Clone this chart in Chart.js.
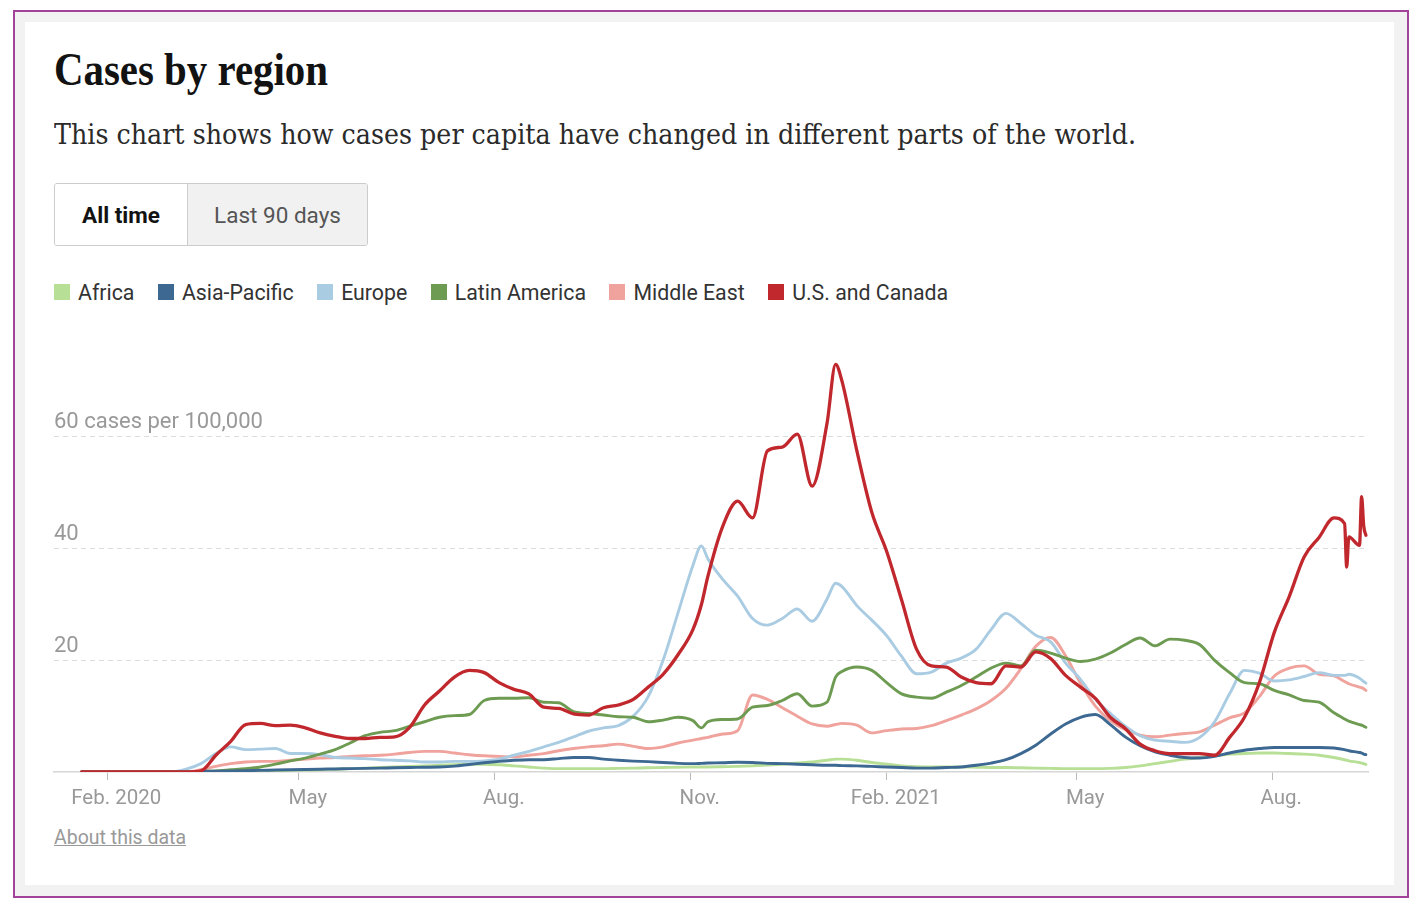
<!DOCTYPE html>
<html>
<head>
<meta charset="utf-8">
<title>Cases by region</title>
<script src="https://cdn.jsdelivr.net/npm/chart.js@4.4.0/dist/chart.umd.min.js"></script>
<style>
  html, body { margin: 0; padding: 0; background: #fff; }
  body { width: 1419px; height: 908px; position: relative; overflow: hidden; font-family: Roboto, "Liberation Sans", sans-serif; }
  #frame { position: absolute; left: 13px; top: 10px; width: 1396px; height: 888px; box-sizing: border-box; border: 2px solid #a1439b; background: #f2f2f2; }
  #card { position: absolute; left: 25px; top: 22px; width: 1369px; height: 863px; background: #fff; }
  .abs { position: absolute; white-space: nowrap; }
  #title { left: 54px; top: 47px; font: bold 46px/1 "Liberation Serif", serif; color: #121212; transform-origin: 0 0; }
  #subtitle { left: 54px; top: 119px; font: 27px/1.2 "DejaVu Serif", serif; color: #2a2a2a; transform-origin: 0 0; }
  #toggle { left: 54px; top: 183px; width: 314px; height: 63px; box-sizing: border-box; border: 1px solid #ccc; border-radius: 3px; display: flex; overflow: hidden; }
  #toggle div { display: flex; align-items: center; justify-content: center; font-size: 22.5px; }
  #allTime { width: 132px; background: #fff; color: #121212; font-weight: bold; border-right: 1px solid #ccc; }
  #last90 { flex: 1; background: #f1f1f1; color: #555; }
  #legend { left: 54px; top: 280px; height: 24px; display: flex; align-items: center; }
  .item { display: flex; align-items: center; margin-right: 23.5px; font-size: 21.3px; color: #333; }
  .swatch { width: 16px; height: 16px; margin-right: 8px; }
  #chartBox { position: absolute; left: 40px; top: 340px; width: 1350px; height: 480px; }
  #about { left: 54px; top: 826px; font-size: 19.5px; color: #999; text-decoration: underline; }
</style>
</head>
<body>
<div id="frame"></div>
<div id="card"></div>
<div id="title" class="abs">Cases by region</div>
<div id="subtitle" class="abs">This chart shows how cases per capita have changed in different parts of the world.</div>
<div id="toggle" class="abs"><div id="allTime">All time</div><div id="last90">Last 90 days</div></div>
<div id="legend" class="abs"></div>
<div id="chartBox"><canvas id="chart" width="1350" height="480"></canvas></div>
<div id="about" class="abs">About this data</div>

<script>
// days counted from Feb. 1, 2020
var days = [
  -12, -5, 2, 9, 16, 23, 30, 37, 44, 51,
  58, 65, 72, 79, 86, 93, 100, 107, 114, 121,
  128, 135, 142, 149, 156, 163, 170, 177, 184, 191,
  198, 205, 212, 219, 226, 233, 240, 247, 254, 261,
  268, 275, 279, 282, 289, 296, 303, 310, 317, 324,
  331, 338, 342, 345, 352, 359, 366, 373, 380, 387,
  394, 401, 408, 415, 422, 429, 436, 443, 450, 457,
  464, 471, 478, 485, 492, 499, 506, 513, 520, 527,
  534, 541, 548, 555, 562, 569, 576, 581, 582, 583,
  588, 589, 590, 591
];

var africa = [
  0, 0, 0, 0, 0, 0, 0, 0, 0, 0.05,
  0.1, 0.15, 0.2, 0.25, 0.3, 0.35, 0.4, 0.5, 0.6, 0.7,
  0.8, 0.9, 1.0, 1.1, 1.2, 1.3, 1.4, 1.4, 1.3, 1.1,
  0.9, 0.7, 0.6, 0.6, 0.6, 0.6, 0.65, 0.7, 0.75, 0.8,
  0.85, 0.9, 0.9, 0.9, 0.95, 1.0, 1.1, 1.25, 1.4, 1.6,
  1.8, 2.1, 2.3, 2.3, 2.1, 1.7, 1.4, 1.1, 0.95, 0.9,
  0.9, 0.9, 0.85, 0.8, 0.8, 0.75, 0.7, 0.65, 0.6, 0.6,
  0.6, 0.65, 0.8, 1.1, 1.5, 1.9, 2.3, 2.6, 2.9, 3.2,
  3.3, 3.4, 3.4, 3.3, 3.2, 3.0, 2.6, 2.2, 2.1, 2.0,
  1.7, 1.6, 1.5, 1.35
];

var asiaPacific = [
  0, 0, 0, 0, 0, 0, 0, 0, 0.1, 0.15,
  0.2, 0.25, 0.3, 0.35, 0.4, 0.45, 0.5, 0.55, 0.6, 0.65,
  0.7, 0.75, 0.8, 0.85, 0.9, 1.05, 1.35, 1.65, 1.9, 2.1,
  2.2, 2.2, 2.4, 2.6, 2.6, 2.3, 2.1, 1.95, 1.85, 1.7,
  1.55, 1.5, 1.55, 1.6, 1.65, 1.75, 1.7, 1.55, 1.5, 1.4,
  1.3, 1.2, 1.2, 1.15, 1.1, 1.0, 0.9, 0.8, 0.7, 0.7,
  0.8, 0.9, 1.2, 1.6, 2.2, 3.3, 4.8, 6.8, 8.6, 9.8,
  10.3, 8.5, 6.3, 4.7, 3.6, 3.0, 2.6, 2.5, 2.8, 3.4,
  3.9, 4.2, 4.4, 4.4, 4.4, 4.4, 4.3, 4.0, 3.9, 3.8,
  3.5, 3.4, 3.2, 3.1
];

var europe = [
  0, 0, 0, 0, 0, 0, 0, 0.5, 1.5, 3.3,
  4.5, 4.0, 4.1, 4.2, 3.3, 3.3, 3.1, 2.6, 2.5, 2.4,
  2.2, 2.1, 2.0, 1.8, 1.8, 1.9, 1.9, 2.0, 2.3, 3.0,
  3.7, 4.5, 5.3, 6.3, 7.3, 7.9, 8.3, 10.0, 13.5, 20,
  28.5, 37, 40.5, 38.2, 34.5, 31.5, 27.5, 26.3, 27.5, 29.2,
  27.0, 31.0, 33.8, 33.2, 29.8, 27.2, 24.4, 20.7, 17.6, 17.9,
  19.5, 20.4, 22.0, 25.5, 28.4, 26.6, 24.5, 23.3, 19.5, 16.6,
  13.0, 10.5, 8.2, 6.5, 5.7, 5.5, 5.3, 6.2, 9.0, 14,
  18.2, 17.7, 16.3, 16.5, 17.1, 17.8, 17.3, 17.3, 17.4, 17.5,
  16.8, 16.5, 16.2, 15.9
];

var latinAmerica = [
  0, 0, 0, 0, 0, 0, 0, 0, 0.1, 0.2,
  0.4, 0.6, 0.9, 1.4, 2.0, 2.5, 3.2, 4.0, 5.2, 6.5,
  7.1, 7.4, 8.2, 9.0, 9.8, 10.1, 10.3, 12.8, 13.2, 13.2,
  13.3, 12.5, 12.4, 10.8, 10.5, 10.2, 9.9, 9.8, 9.0, 9.3,
  9.8, 9.2, 7.9, 9.0, 9.4, 9.5, 11.6, 11.9, 12.8, 14.0,
  11.8, 12.5, 17, 18.0, 18.8, 18.2, 16.0, 14.0, 13.4, 13.2,
  14.3, 15.5, 17.0, 18.6, 19.5, 19.0, 21.8, 21.3, 20.4, 19.8,
  20.2, 21.3, 22.8, 24.0, 22.6, 23.8, 23.6, 22.8, 20.0, 17.8,
  16.0, 15.8, 14.6, 13.8, 12.8, 12.5, 10.6, 9.5, 9.3, 9.1,
  8.5, 8.4, 8.2, 8.0
];

var middleEast = [
  0, 0, 0, 0, 0, 0, 0, 0, 0.4, 1.0,
  1.5, 1.8, 1.9, 1.9, 2.1, 2.3, 2.5, 2.6, 2.8, 2.9,
  3.0, 3.2, 3.5, 3.7, 3.7, 3.4, 3.1, 2.9, 2.8, 2.7,
  3.0, 3.3, 3.8, 4.2, 4.5, 4.7, 5.0, 4.6, 4.2, 4.5,
  5.2, 5.7, 6.0, 6.2, 6.8, 7.4, 13.8, 13.0, 11.5, 10.0,
  8.6, 8.2, 8.5, 8.7, 8.4, 7.0, 7.4, 7.7, 7.8, 8.3,
  9.2, 10.2, 11.3, 12.8, 15.0, 18.5, 22.5, 24.1, 20.8, 15.9,
  11.8, 9.2, 7.6, 6.6, 6.3, 6.6, 6.9, 7.2, 8.4, 9.7,
  10.6, 13.5, 17.2, 18.6, 19.0, 17.5, 17.2, 16.2, 16.0, 15.8,
  15.2, 15.1, 14.9, 14.6
];

var usCanada = [
  0, 0, 0, 0, 0, 0, 0, 0, 0.2, 3.0,
  5.5, 8.5, 8.7, 8.3, 8.4, 7.9, 7.0, 6.4, 6.0, 6.0,
  6.2, 6.3, 8.0, 12.0, 14.5, 17.0, 18.2, 17.8, 16.0, 14.8,
  14.0, 11.6, 11.4, 10.4, 10.2, 11.5, 12.0, 13.0, 15.2, 17.5,
  21, 25.5, 30, 35, 44, 48.5, 45.5, 57.5, 58.2, 60.5,
  51.2, 62.5, 73, 70, 57.5, 46.5, 39.5, 30.8, 22, 19,
  18.8, 17, 16, 15.8, 19, 18.8, 21.5, 20.3, 17.3, 15.2,
  13.2, 9.8, 7.8, 5.0, 3.8, 3.3, 3.3, 3.3, 3.0, 6.2,
  9.8, 16, 25, 31.4, 38.5, 42, 45.5, 44.5, 36.7, 42.1,
  40.6, 49.3, 44, 42.4
];

var regionNames = ['Africa', 'Asia-Pacific', 'Europe', 'Latin America', 'Middle East', 'U.S. and Canada'];
var regionColors = ['#b8df96', '#3c6892', '#a9cce3', '#6d9b51', '#f0a29c', '#c1282d'];
var regionValues = [africa, asiaPacific, europe, latinAmerica, middleEast, usCanada];
var drawOrder = [5, 1, 3, 2, 4, 0];

var xTickDays = [0, 90, 182, 274, 366, 455, 547];
var xTickLabels = ['Feb. 2020', 'May', 'Aug.', 'Nov.', 'Feb. 2021', 'May', 'Aug.'];
var yTickValues = [20, 40, 60];
var yTickLabels = ['20', '40', '60 cases per 100,000'];

function fitWidth(id, target) {
  var el = document.getElementById(id);
  var w = el.getBoundingClientRect().width;
  el.style.transform = 'scaleX(' + (target / w) + ')';
}

function buildLegend() {
  var legend = document.getElementById('legend');
  regionNames.forEach(function(name, i) {
    var item = document.createElement('div');
    item.className = 'item';
    item.innerHTML = '<span class="swatch" style="background:' + regionColors[i] + '"></span>' + name;
    legend.appendChild(item);
  });
}

function buildDatasets() {
  return regionNames.map(function(name, i) {
    return {
      label: name,
      data: days.map(function(d, j) { return { x: d, y: regionValues[i][j] }; }),
      borderColor: regionColors[i],
      borderWidth: i === 5 ? 3.3 : 2.9,
      order: drawOrder[i],
      cubicInterpolationMode: 'monotone',
      fill: false
    };
  });
}

fitWidth('title', 274);
fitWidth('subtitle', 1082);
buildLegend();

var ctx = document.getElementById('chart').getContext('2d');
var myChart = new Chart(ctx, {
  type: 'line',
  data: { datasets: buildDatasets() },
  options: {
    responsive: false,
    animation: false,
    events: [],
    layout: { padding: { left: 14, right: 22, top: 13, bottom: 0 } },
    plugins: { legend: { display: false }, tooltip: { enabled: false } },
    elements: { point: { radius: 0 }, line: { borderJoinStyle: 'round', borderCapStyle: 'round' } },
    scales: {
      x: {
        type: 'linear',
        min: -25,
        max: 592,
        afterBuildTicks: function(scale) {
          scale.ticks = xTickDays.map(function(v) { return { value: v }; });
        },
        afterFit: function(scale) { scale.height = 48; },
        grid: { drawOnChartArea: false, drawTicks: true, tickLength: 8, tickColor: '#bbb', tickWidth: 1 },
        border: { display: true, color: '#d6d6d6', width: 1.5 },
        ticks: {
          autoSkip: false, maxRotation: 0, padding: 7, labelOffset: 9,
          color: '#999', font: { family: 'Roboto', size: 20.5 },
          callback: function(v, i) { return xTickLabels[i]; }
        }
      },
      y: {
        min: 0,
        max: 75,
        afterBuildTicks: function(scale) {
          scale.ticks = yTickValues.map(function(v) { return { value: v }; });
        },
        afterFit: function(scale) { scale.width = 0; },
        grid: { color: '#dcdcdc', lineWidth: 1, drawTicks: false },
        border: { display: false, dash: [5, 4] },
        ticks: {
          mirror: true, padding: 0, labelOffset: -14,
          color: '#999', font: { family: 'Roboto', size: 22 },
          callback: function(v, i) { return yTickLabels[i]; }
        }
      }
    }
  }
});
</script>
</body>
</html>
